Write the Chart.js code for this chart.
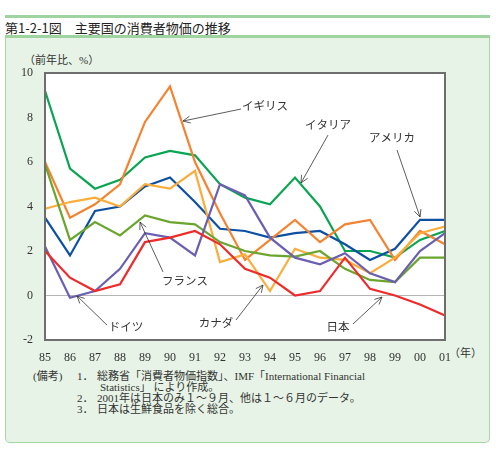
<!DOCTYPE html>
<html><head><meta charset="utf-8">
<script src="https://cdn.jsdelivr.net/npm/chart.js@4/dist/chart.umd.min.js"></script>
<style>
html,body{margin:0;padding:0;background:#fff;}
#wrap{position:relative;width:496px;height:456px;overflow:hidden;font-family:"Liberation Serif","Noto Sans CJK JP",serif;color:#333;}
.bar{position:absolute;left:5px;width:485px;height:3px;background:#9fd39f;}
#title{position:absolute;left:5px;top:18px;font:13px "Noto Sans CJK JP",sans-serif;color:#222;white-space:nowrap;}
#box{position:absolute;left:5px;top:38px;width:483px;height:404px;background:#e7f3e6;border:1px solid #a7d7a5;border-top:none;border-radius:0 0 5px 5px;}
.t{position:absolute;white-space:nowrap;font-size:11px;line-height:11px;}
canvas{position:absolute;left:0;top:0;}
</style></head>
<body>
<div id="wrap">
  <div class="bar" style="top:15px"></div>
  <div id="title">第1-2-1図　主要国の消費者物価の推移</div>
  <div class="bar" style="top:35px"></div>
  <div id="box"></div>
  <div class="t" style="left:24px;top:55px;">（前年比、%）</div>
  <div class="t" style="left:449px;top:348px;">（年）</div>
  <div class="t" style="left:33px;top:371px;">(備考)</div>
  <div class="t" style="left:77px;top:371px;">1．</div>
  <div class="t" style="left:97px;top:371px;">総務省「消費者物価指数」、IMF「International Financial</div>
  <div class="t" style="left:100px;top:382px;">Statistics」 により作成。</div>
  <div class="t" style="left:77px;top:393px;">2．</div>
  <div class="t" style="left:97px;top:393px;">2001年は日本のみ１～９月、他は１～６月のデータ。</div>
  <div class="t" style="left:77px;top:404px;">3．</div>
  <div class="t" style="left:97px;top:404px;">日本は生鮮食品を除く総合。</div>
  <canvas id="c" width="496" height="456"></canvas>
</div>
<script>
const years = ['85','86','87','88','89','90','91','92','93','94','95','96','97','98','99','00','01'];
const yTicks = [-2, 0, 2, 4, 6, 8, 10];

const japan   = [2.0, 0.8, 0.2, 0.5, 2.4, 2.6, 2.9, 2.3, 1.2, 0.8, 0.0, 0.2, 1.7, 0.3, 0.0, -0.4, -0.9];
const germany = [2.2, -0.1, 0.2, 1.2, 2.8, 2.6, 1.8, 5.0, 4.5, 2.6, 1.7, 1.4, 1.9, 1.0, 0.6, 2.0, 2.8];
const france  = [5.9, 2.5, 3.3, 2.7, 3.6, 3.3, 3.2, 2.4, 2.0, 1.8, 1.75, 2.0, 1.2, 0.7, 0.6, 1.7, 1.7];
const canada  = [3.9, 4.2, 4.4, 4.0, 5.0, 4.8, 5.6, 1.5, 1.85, 0.2, 2.1, 1.7, 1.6, 1.0, 1.7, 2.8, 3.1];
const uk      = [6.0, 3.5, 4.1, 5.0, 7.8, 9.4, 6.0, 3.7, 1.6, 2.5, 3.4, 2.4, 3.2, 3.4, 1.6, 2.9, 2.3];
const usa     = [3.5, 1.8, 3.8, 4.0, 4.9, 5.3, 4.2, 3.0, 2.9, 2.6, 2.8, 2.9, 2.3, 1.6, 2.1, 3.4, 3.4];
const italy   = [9.2, 5.7, 4.8, 5.2, 6.2, 6.5, 6.3, 5.0, 4.4, 4.1, 5.3, 4.0, 2.0, 2.0, 1.7, 2.5, 2.9];

// label annotations: text centre and arrow (tail -> head), in axis units (x = year index)
const notes = [
  {text:'イギリス', tx:8.8,  ty:8.52, ax:7.84, ay:8.38, bx:5.52, by:7.84},
  {text:'イタリア', tx:11.32,ty:7.66, ax:11.32,ay:7.21, bx:10.24,by:5.06},
  {text:'アメリカ', tx:13.88,ty:7.08, ax:14.08,ay:6.54, bx:15.0, by:3.53},
  {text:'フランス', tx:5.6,  ty:0.65, ax:4.72, ay:1.06, bx:3.8,  by:3.3},
  {text:'ドイツ',   tx:3.24, ty:-1.42,ax:2.48, ay:-1.33,bx:1.28, by:-0.02},
  {text:'カナダ',   tx:6.84, ty:-1.24,ax:7.64, ay:-1.1, bx:8.72, by:0.47},
  {text:'日本',     tx:11.72,ty:-1.42,ax:12.32,ay:-1.28,bx:13.48,by:-0.07}
];

const frame = {
  id:'frame',
  beforeDraw(chart){
    const {ctx, chartArea:a} = chart;
    ctx.save(); ctx.fillStyle='#fff';
    ctx.fillRect(a.left,a.top,a.right-a.left,a.bottom-a.top); ctx.restore();
  },
  afterDraw(chart){
    const {ctx, chartArea:a, scales} = chart;
    ctx.save();
    ctx.strokeStyle='#6e6e6e'; ctx.lineWidth=2;
    ctx.strokeRect(a.left,a.top,a.right-a.left,a.bottom-a.top);
    ctx.strokeStyle='#333'; ctx.fillStyle='#333'; ctx.lineWidth=0.8;
    ctx.font='11.5px "Noto Sans CJK JP", sans-serif';
    ctx.textAlign='center'; ctx.textBaseline='middle';
    for(const n of notes){
      const x=scales.x, y=scales.y;
      ctx.fillText(n.text, x.getPixelForValue(n.tx), y.getPixelForValue(n.ty));
      const x0=x.getPixelForValue(n.ax), y0=y.getPixelForValue(n.ay);
      const x1=x.getPixelForValue(n.bx), y1=y.getPixelForValue(n.by);
      ctx.beginPath(); ctx.moveTo(x0,y0); ctx.lineTo(x1,y1); ctx.stroke();
      const ang=Math.atan2(y1-y0,x1-x0), L=8, w=0.45;
      ctx.beginPath();
      ctx.moveTo(x1-L*Math.cos(ang-w), y1-L*Math.sin(ang-w));
      ctx.lineTo(x1,y1);
      ctx.lineTo(x1-L*Math.cos(ang+w), y1-L*Math.sin(ang+w));
      ctx.stroke();
    }
    ctx.restore();
  }
};

const mk = (label,data,color)=>({label,data,borderColor:color,backgroundColor:color,borderWidth:2.2,pointRadius:0,tension:0,fill:false});

new Chart(document.getElementById('c'),{
  type:'line',
  data:{labels:years,datasets:[
    mk('日本',japan,'#ee2a2a'),
    mk('ドイツ',germany,'#6a5fb0'),
    mk('フランス',france,'#6aa62e'),
    mk('カナダ',canada,'#fbad3b'),
    mk('イギリス',uk,'#f5822f'),
    mk('アメリカ',usa,'#0d50a3'),
    mk('イタリア',italy,'#0aa552')
  ]},
  options:{
    responsive:false, animation:false, devicePixelRatio:1,
    layout:{padding:{left:0,right:51,top:73,bottom:0}},
    plugins:{legend:{display:false},tooltip:{enabled:false}},
    scales:{
      x:{
        offset:false,
        grid:{display:false},
        border:{display:false},
        ticks:{color:'#333',font:{family:'"Liberation Serif", serif',size:12},padding:3,maxRotation:0,autoSkip:false},
        afterFit(s){ s.height=116; }
      },
      y:{
        min:-2,max:10,
        afterBuildTicks(s){ s.ticks = yTicks.map(v=>({value:v})); },
        grid:{drawTicks:false,color:c=>c.tick&&c.tick.value===0?'#b5b5b5':'rgba(0,0,0,0)',lineWidth:1},
        border:{display:false},
        ticks:{color:'#333',font:{family:'"Liberation Serif", serif',size:12},padding:12},
        afterFit(s){ s.width=45; }
      }
    }
  },
  plugins:[frame]
});
</script>
</body></html>
